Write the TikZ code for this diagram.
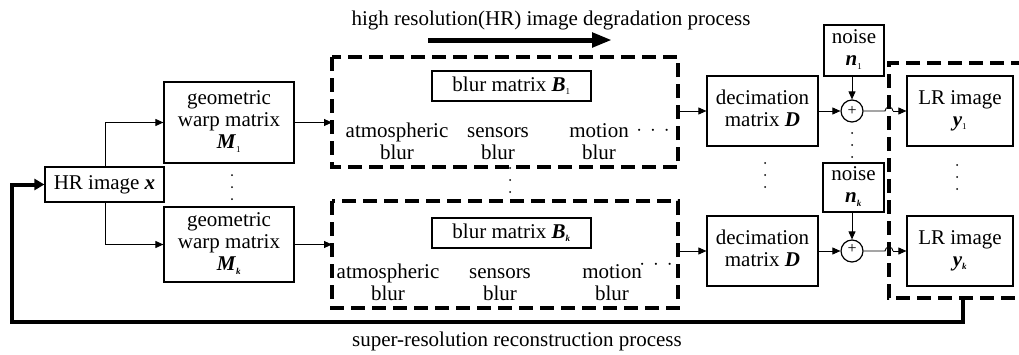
\documentclass[tikz,border=0pt]{standalone}
\usepackage{fontspec}
\setmainfont{Liberation Serif}
\usetikzlibrary{arrows.meta}
\newcommand\lsub[1]{\textsubscript{\fontsize{9}{9}\selectfont #1}}
\newcommand\bi[1]{\textbf{\textit{#1}}}
\begin{document}
\begin{tikzpicture}[x=1pt,y=-1pt,
  txt/.style={font=\fontsize{21}{22}\selectfont, align=center, inner sep=0pt},
  box/.style={txt, draw, line width=1.2pt},
  dbox/.style={draw, line width=3.5pt, dash pattern=on 14pt off 7pt},
  conn/.style={line width=0.9pt, -{Triangle[length=8pt,width=7pt]}},
  thick conn/.style={line width=4pt, -{Triangle[length=10pt,width=11pt]}},
  vdots/.style={fill, circle, inner sep=0pt, minimum size=2pt}]
\useasboundingbox (0,0) rectangle (1019,354);

% titles
\node[txt] (title) at (551,20) {high resolution(HR) image degradation process};
\coordinate (da) at (428,40);
\coordinate (db) at (612,40);
\draw[line width=5pt, -{Triangle[length=20pt,width=14pt]}] (da) -- (db);
\node[txt] (bottom) at (517,341) {super-resolution reconstruction process};

% HR image and warps
\node[box, minimum width=119pt, minimum height=35pt] (HR) at (104.5,184.5) {HR image \bi{x}};
\node[box, minimum width=130pt, minimum height=81pt] (M1) at (229,122.5) {\strut geometric\\\strut warp matrix\\\strut\bi{M}\lsub{1}};
\node[box, minimum width=130pt, minimum height=75pt] (Mk) at (229,244.5) {\strut geometric\\\strut warp matrix\\\strut\bi{M}\lsub{\textbf{\textit{k}}}};
\coordinate (hrt) at (105,167);
\coordinate (hrb) at (105,202);
\draw[conn] (hrt) |- (M1.west);
\draw[conn] (hrb) |- (Mk.west);

% dashed blur groups
\draw[dbox] (332,57) rectangle (678,167);
\draw[dbox] (332,201) rectangle (678,308);
\coordinate (B1in) at (332,122.5);
\coordinate (Bkin) at (332,244.5);
\coordinate (B1out) at (678,111);
\coordinate (Bkout) at (678,251);
\draw[conn] (M1.east) -- (B1in);
\draw[conn] (Mk.east) -- (Bkin);

\node[box, minimum width=159pt, minimum height=30pt] (B1) at (511.5,86) {blur matrix \bi{B}\lsub{1}};
\node[box, minimum width=159pt, minimum height=30pt] (Bk) at (511.5,233) {blur matrix \bi{B}\lsub{\textbf{\textit{k}}}};

\node[txt] (a1) at (397,144) {\strut atmospheric\\\strut blur};
\node[txt] (s1) at (498,144) {\strut sensors\\\strut blur};
\node[txt] (m1) at (599,144) {\strut motion\\\strut blur};
\node[txt] (d1) at (653,131) {$\cdot\,\cdot\,\cdot$};
\node[txt] (a2) at (388,285) {\strut atmospheric\\\strut blur};
\node[txt] (s2) at (500,285) {\strut sensors\\\strut blur};
\node[txt] (m2) at (612,285) {\strut motion\\\strut blur};
\node[txt] (d2) at (656,265) {$\cdot\,\cdot\,\cdot$};

% decimation
\node[box, minimum width=111pt, minimum height=70pt] (D1) at (762.5,111) {\strut decimation\\\strut matrix \bi{D}};
\node[box, minimum width=111pt, minimum height=70pt] (D2) at (762.5,251) {\strut decimation\\\strut matrix \bi{D}};
\draw[conn] (B1out) -- (D1.west);
\draw[conn] (Bkout) -- (D2.west);

% adders and noise
\node[draw, circle, line width=1.2pt, minimum size=22pt, inner sep=0pt] (c1) at (852,111) {};
\node[draw, circle, line width=1.2pt, minimum size=22pt, inner sep=0pt] (c2) at (852,251) {};
\node[txt, font=\fontsize{16}{16}\selectfont] (p1) at (852,111) {+};
\node[txt, font=\fontsize{16}{16}\selectfont] (p2) at (852,249) {+};
\node[box, minimum width=60pt, minimum height=51pt] (N1) at (854,50.5) {\strut noise\\\strut\bi{n}\lsub{1}};
\node[box, minimum width=61pt, minimum height=49pt] (Nk) at (853.5,187.5) {\strut noise\\\strut\bi{n}\lsub{\textbf{\textit{k}}}};
\draw[conn] (D1.east) -- (c1.west);
\draw[conn] (D2.east) -- (c2.west);
\draw[conn] (N1.south -| c1) -- (c1.north);
\draw[conn] (Nk.south -| c2) -- (c2.north);

% LR images
\node[box, minimum width=106pt, minimum height=70pt] (L1) at (960,111) {\strut LR image\\\strut\bi{y}\lsub{1}};
\node[box, minimum width=106pt, minimum height=70pt] (L2) at (960,251) {\strut LR image\\\strut\bi{y}\lsub{\textbf{\textit{k}}}};
\coordinate (h1) at (885,111);
\coordinate (h2) at (885,251);
\draw[line width=0.9pt] (c1.east) -- (h1) arc[start angle=180,end angle=0,radius=4pt];
\draw[conn] ([xshift=8pt]h1) -- (L1.west);
\draw[line width=0.9pt] (c2.east) -- (h2) arc[start angle=180,end angle=0,radius=4pt];
\draw[conn] ([xshift=8pt]h2) -- (L2.west);
\draw[dbox] (1025,63) -- (889,63) -- (889,298) -- (1025,298);

% feedback
\coordinate (fb0) at (963,298);
\coordinate (fb1) at (963,322);
\coordinate (fb2) at (12,322);
\coordinate (fb3) at (12,184.5);
\draw[thick conn] (fb0) -- (fb1) -- (fb2) -- (fb3) -- (HR.west);

% vertical dots
\foreach \x/\y [count=\i] in {232/175, 510/168, 765/163, 852/133, 957/165}{
  \node[vdots] (va\i) at (\x,\y) {};
  \node[vdots] (vb\i) at (\x,\y+12) {};
  \node[vdots] (vc\i) at (\x,\y+24) {};
}
\end{tikzpicture}
\end{document}
